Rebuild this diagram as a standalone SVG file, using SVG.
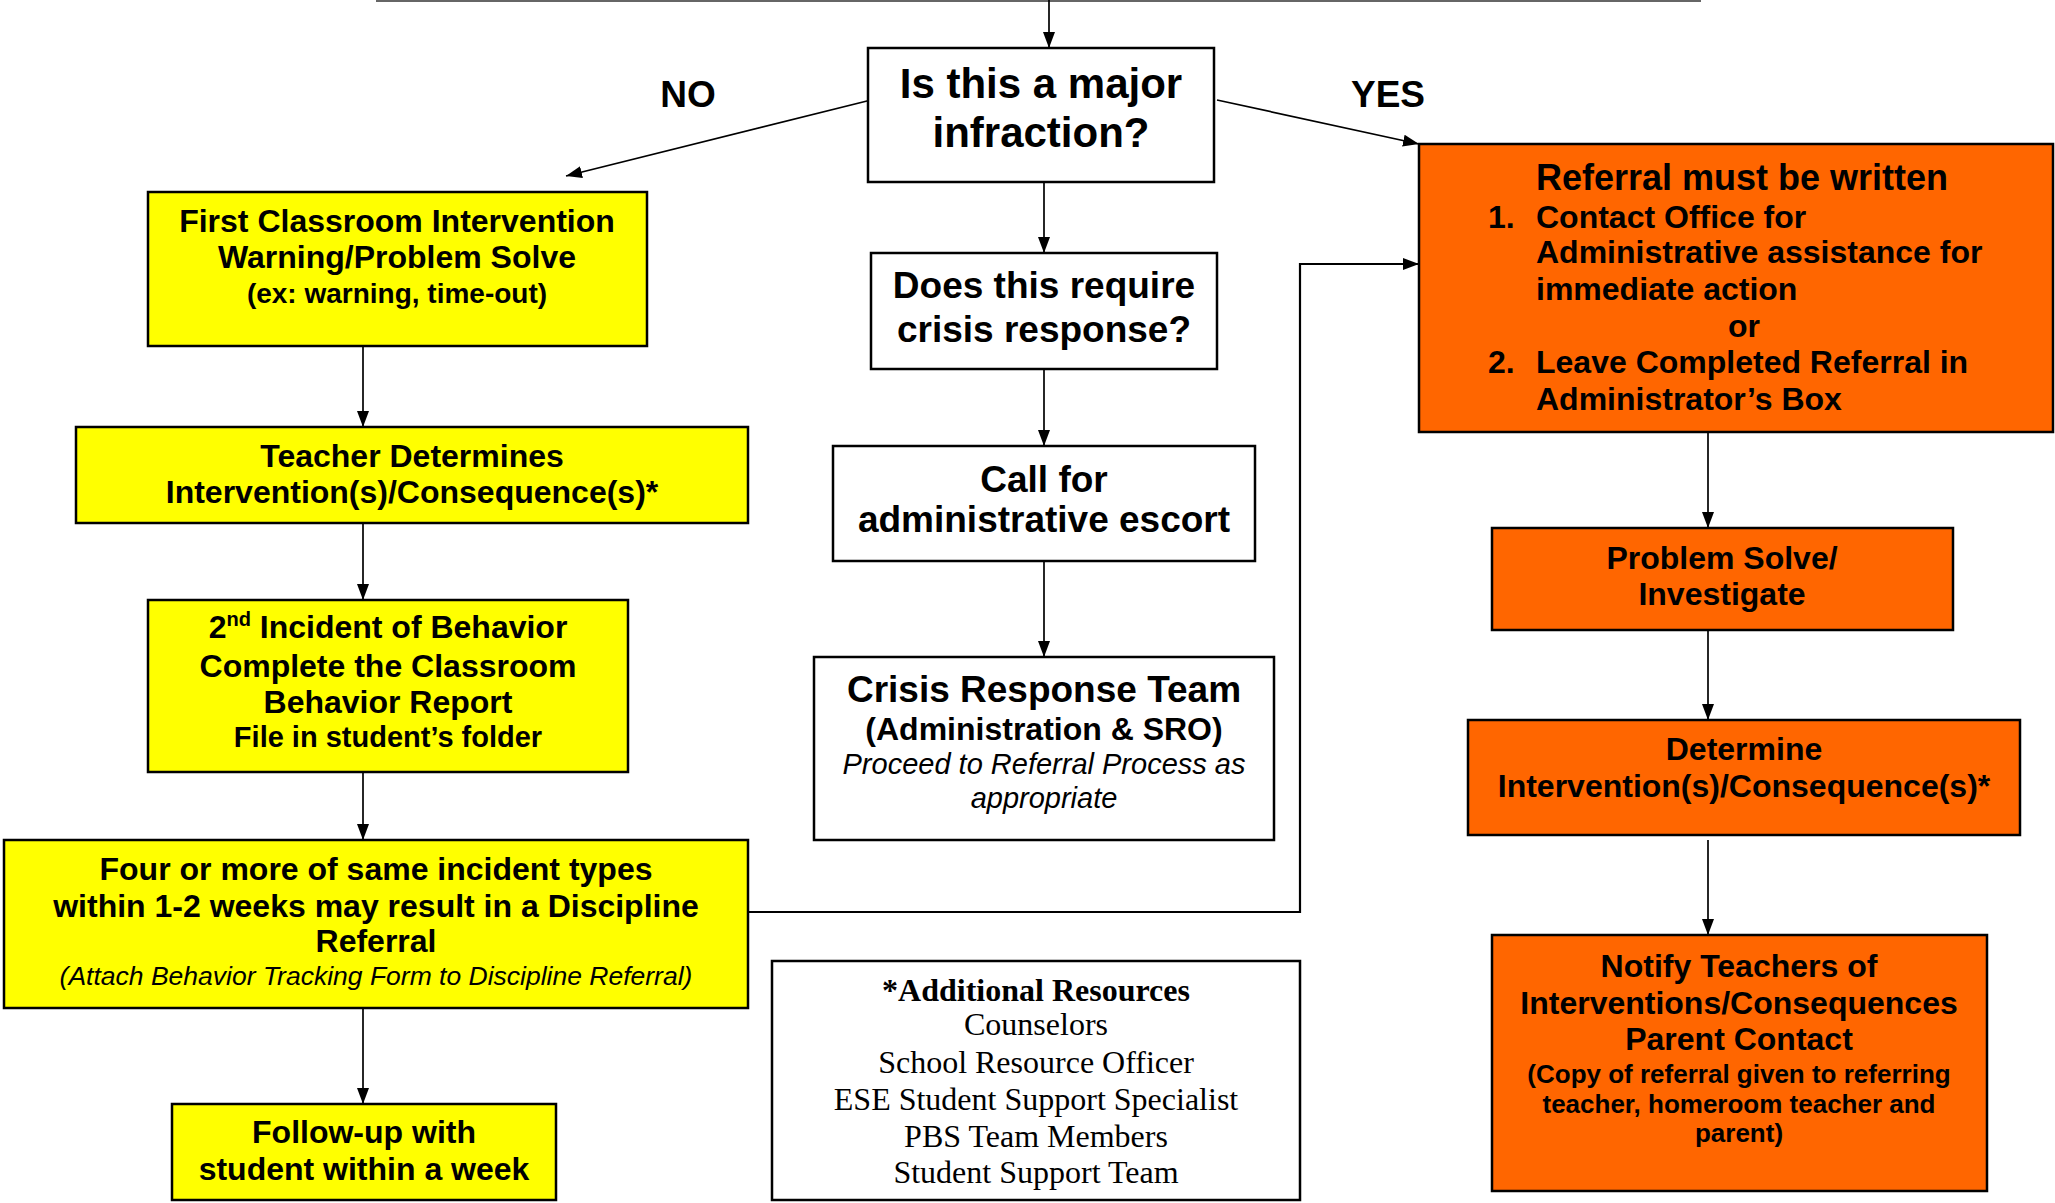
<svg xmlns="http://www.w3.org/2000/svg" width="2055" height="1203" viewBox="0 0 2055 1203">
<style>
.bx{stroke:#000;stroke-width:2.5}
.w{fill:#fff}
.y{fill:#ffff00}
.o{fill:#ff6600}
.c{fill:none;stroke:#000;stroke-width:1.7}
text{font-family:"Liberation Sans",Arial,sans-serif;font-weight:bold;fill:#000;text-anchor:middle}
.i{font-style:italic;font-weight:normal}
.tm{font-family:"Liberation Serif","Times New Roman",serif;font-weight:normal}
.s{text-anchor:start}
</style>
<defs>
<marker id="ah" viewBox="0 0 16 12" refX="16" refY="6" markerWidth="16" markerHeight="12" markerUnits="userSpaceOnUse" orient="auto">
<path d="M0,0 L16,6 L0,12 z" fill="#000"/>
</marker>
</defs>
<rect width="2055" height="1203" fill="#fff"/>
<g id="connectors">
<line x1="376" y1="1" x2="1701" y2="1" stroke="#666" stroke-width="2"/>
<line class="c" x1="1049" y1="0" x2="1049" y2="48" marker-end="url(#ah)"/>
<line class="c" x1="871" y1="100" x2="566" y2="176" marker-end="url(#ah)"/>
<line class="c" x1="1217" y1="100" x2="1419" y2="144" marker-end="url(#ah)"/>
<line class="c" x1="1044" y1="182" x2="1044" y2="253" marker-end="url(#ah)"/>
<line class="c" x1="1044" y1="369" x2="1044" y2="446" marker-end="url(#ah)"/>
<line class="c" x1="1044" y1="561" x2="1044" y2="657" marker-end="url(#ah)"/>
<line class="c" x1="363" y1="336" x2="363" y2="427" marker-end="url(#ah)"/>
<line class="c" x1="363" y1="523" x2="363" y2="600" marker-end="url(#ah)"/>
<line class="c" x1="363" y1="772" x2="363" y2="840" marker-end="url(#ah)"/>
<line class="c" x1="363" y1="1008" x2="363" y2="1104" marker-end="url(#ah)"/>
<polyline class="c" points="748,912 1300,912 1300,264 1419,264" marker-end="url(#ah)" style="stroke-width:2.2"/>
<line class="c" x1="1708" y1="432" x2="1708" y2="528" marker-end="url(#ah)"/>
<line class="c" x1="1708" y1="624" x2="1708" y2="720" marker-end="url(#ah)"/>
<line class="c" x1="1708" y1="840" x2="1708" y2="935" marker-end="url(#ah)"/>
<text x="688" y="107" font-size="37">NO</text>
<text x="1388" y="107" font-size="37">YES</text>
</g>
<g id="infraction">
<rect class="bx w" x="868" y="48" width="346" height="134"/>
<text x="1041" y="98" font-size="42">Is this a major</text>
<text x="1041" y="147" font-size="42">infraction?</text>
</g>
<g id="crisis-question">
<rect class="bx w" x="871" y="253" width="346" height="116"/>
<text x="1044" y="298" font-size="37">Does this require</text>
<text x="1044" y="342" font-size="37">crisis response?</text>
</g>
<g id="call-escort">
<rect class="bx w" x="833" y="446" width="422" height="115"/>
<text x="1044" y="492" font-size="37">Call for</text>
<text x="1044" y="532" font-size="37">administrative escort</text>
</g>
<g id="crisis-team">
<rect class="bx w" x="814" y="657" width="460" height="183"/>
<text x="1044" y="702" font-size="37">Crisis Response Team</text>
<text x="1044" y="740" font-size="32">(Administration &amp; SRO)</text>
<text class="i" x="1044" y="774" font-size="29">Proceed to Referral Process as</text>
<text class="i" x="1044" y="808" font-size="29">appropriate</text>
</g>
<g id="first-intervention">
<rect class="bx y" x="148" y="192" width="499" height="154"/>
<text x="397" y="232" font-size="32">First Classroom Intervention</text>
<text x="397" y="268" font-size="32">Warning/Problem Solve</text>
<text x="397" y="303" font-size="28">(ex: warning, time-out)</text>
</g>
<g id="teacher-determines">
<rect class="bx y" x="76" y="427" width="672" height="96"/>
<text x="412" y="467" font-size="32">Teacher Determines</text>
<text x="412" y="503" font-size="32">Intervention(s)/Consequence(s)*</text>
</g>
<g id="second-incident">
<rect class="bx y" x="148" y="600" width="480" height="172"/>
<text x="388" y="638" font-size="32">2<tspan font-size="20" dy="-12">nd</tspan><tspan dy="12"> Incident of Behavior</tspan></text>
<text x="388" y="677" font-size="32">Complete the Classroom</text>
<text x="388" y="713" font-size="32">Behavior Report</text>
<text x="388" y="747" font-size="29">File in student’s folder</text>
</g>
<g id="four-or-more">
<rect class="bx y" x="4" y="840" width="744" height="168"/>
<text x="376" y="880" font-size="32">Four or more of same incident types</text>
<text x="376" y="917" font-size="32">within 1-2 weeks may result in a Discipline</text>
<text x="376" y="952" font-size="32">Referral</text>
<text class="i" x="376" y="985" font-size="26.5">(Attach Behavior Tracking Form to Discipline Referral)</text>
</g>
<g id="follow-up">
<rect class="bx y" x="172" y="1104" width="384" height="96"/>
<text x="364" y="1143" font-size="32">Follow-up with</text>
<text x="364" y="1180" font-size="32">student within a week</text>
</g>
<g id="additional-resources">
<rect class="bx w" x="772" y="961" width="528" height="239"/>
<text class="tm" x="1036" y="1001" font-size="32" style="font-weight:bold">*Additional Resources</text>
<text class="tm" x="1036" y="1035" font-size="32">Counselors</text>
<text class="tm" x="1036" y="1073" font-size="32">School Resource Officer</text>
<text class="tm" x="1036" y="1110" font-size="32">ESE Student Support Specialist</text>
<text class="tm" x="1036" y="1147" font-size="32">PBS Team Members</text>
<text class="tm" x="1036" y="1183" font-size="32">Student Support Team</text>
</g>
<g id="referral">
<rect class="bx o" x="1419" y="144" width="634" height="288"/>
<text x="1742" y="190" font-size="36">Referral must be written</text>
<text class="s" x="1488" y="228" font-size="32">1.</text>
<text class="s" x="1536" y="228" font-size="32">Contact Office for</text>
<text class="s" x="1536" y="263" font-size="32">Administrative assistance for</text>
<text class="s" x="1536" y="300" font-size="32">immediate action</text>
<text x="1744" y="337" font-size="32">or</text>
<text class="s" x="1488" y="373" font-size="32">2.</text>
<text class="s" x="1536" y="373" font-size="32">Leave Completed Referral in</text>
<text class="s" x="1536" y="410" font-size="32">Administrator’s Box</text>
</g>
<g id="problem-solve">
<rect class="bx o" x="1492" y="528" width="461" height="102"/>
<text x="1722" y="569" font-size="32">Problem Solve/</text>
<text x="1722" y="605" font-size="32">Investigate</text>
</g>
<g id="determine">
<rect class="bx o" x="1468" y="720" width="552" height="115"/>
<text x="1744" y="760" font-size="32">Determine</text>
<text x="1744" y="797" font-size="32">Intervention(s)/Consequence(s)*</text>
</g>
<g id="notify">
<rect class="bx o" x="1492" y="935" width="495" height="256"/>
<text x="1739" y="977" font-size="32">Notify Teachers of</text>
<text x="1739" y="1014" font-size="32">Interventions/Consequences</text>
<text x="1739" y="1050" font-size="32">Parent Contact</text>
<text x="1739" y="1083" font-size="26">(Copy of referral given to referring</text>
<text x="1739" y="1113" font-size="26">teacher, homeroom teacher and</text>
<text x="1739" y="1142" font-size="26">parent)</text>
</g>
</svg>
